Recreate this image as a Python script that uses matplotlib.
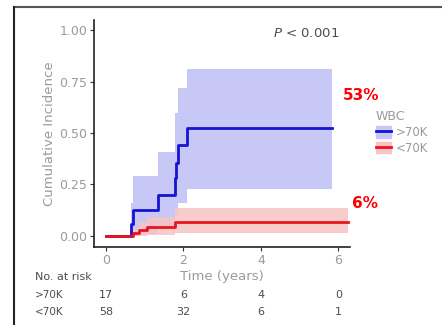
import matplotlib
matplotlib.use("Agg")
import matplotlib.pyplot as plt
from matplotlib.lines import Line2D
from matplotlib.patches import Patch

# step curves (time in years, cumulative incidence)
blue_t = [0, 0.65, 0.70, 1.33, 1.77, 1.80, 1.87, 2.08, 5.83]
blue_y = [0, 0.06, 0.125, 0.20, 0.28, 0.355, 0.44, 0.525, 0.525]
red_t = [0, 0.70, 0.85, 1.05, 1.77, 6.25]
red_y = [0, 0.012, 0.027, 0.042, 0.066, 0.066]

# confidence bands
blue_ci_t = [0.65, 0.70, 1.33, 1.77, 1.87, 2.08, 5.83]
blue_lo = [0.0, 0.01, 0.04, 0.10, 0.16, 0.23, 0.23]
blue_hi = [0.16, 0.29, 0.41, 0.60, 0.72, 0.81, 0.81]
red_ci_t = [0.70, 0.85, 1.05, 1.77, 6.25]
red_lo = [0.0, 0.0, 0.005, 0.014, 0.014]
red_hi = [0.04, 0.07, 0.09, 0.135, 0.135]

groups = [">70K", "<70K"]
risk_times = [0, 2, 4, 6]
risk_hi = [17, 6, 4, 0]
risk_lo = [58, 32, 6, 1]

blue = "#1414d2"
red = "#e8141e"
band_blue = "#c8c8f7"
band_red = "#f8c4c4"
grey = "#4d4d4d"
light = "#9a9a9a"

fig = plt.figure(figsize=(4.42, 3.25), dpi=100)
ax = fig.add_axes([94 / 442, 1 - 247 / 325, 256 / 442, 227 / 325])

ax.fill_between(blue_ci_t, blue_lo, blue_hi, step="post", color=band_blue, lw=0)
ax.fill_between(red_ci_t, red_lo, red_hi, step="post", color=band_red, lw=0, alpha=0.85)
ax.step(blue_t, blue_y, where="post", color=blue, lw=2)
ax.step(red_t, red_y, where="post", color=red, lw=2)

ax.set_xlim(-0.31, 6.3)
ax.set_ylim(-0.054, 1.05)
ax.set_xticks(risk_times)
ax.set_yticks([0, 0.25, 0.5, 0.75, 1.0])
ax.set_yticklabels(["0.00", "0.25", "0.50", "0.75", "1.00"])
ax.tick_params(colors="#333333", labelcolor=light, labelsize=9, length=3,
               width=0.8, pad=2)
for s in ["top", "right"]:
    ax.spines[s].set_visible(False)
for s in ["left", "bottom"]:
    ax.spines[s].set_linewidth(1.2)
    ax.spines[s].set_color("#222222")

ax.set_ylabel("Cumulative Incidence", fontsize=9.5, color=light, labelpad=2)

ax.text(0.83, 0.94, r"$P$ < 0.001", transform=ax.transAxes, fontsize=9.5,
        color=grey, ha="center", va="center")

fig.text(343 / 442, 1 - 95 / 325, "53%", color="red", fontsize=11,
         fontweight="bold", va="center")
fig.text(352 / 442, 1 - 203 / 325, "6%", color="red", fontsize=11,
         fontweight="bold", va="center")

handles = [
    (Patch(color=band_blue), Line2D([], [], color=blue, lw=2)),
    (Patch(color=band_red), Line2D([], [], color=red, lw=2)),
]
leg = fig.legend(handles, groups, title="WBC", loc="upper left",
                 bbox_to_anchor=(370 / 442, 1 - 104 / 325), frameon=False,
                 fontsize=8.5, title_fontsize=9, handlelength=1.3,
                 handleheight=1.1, handletextpad=0.4, labelspacing=0.25,
                 borderpad=0, alignment="left")
for t in leg.get_texts():
    t.set_color(light)
leg.get_title().set_color(light)

# risk table
xt = ax.get_xaxis_transform()
ax.text(3, -0.132, "Time (years)", transform=xt, ha="center", va="center",
        fontsize=9.5, color=light)
fig.text(35 / 442, 1 - 277 / 325, "No. at risk", fontsize=8, color=grey,
         va="center")
for row, (name, vals) in enumerate(zip(groups, [risk_hi, risk_lo])):
    yrow = -0.211 - row * 0.075
    fig.text(35 / 442, 1 - (295 + row * 17) / 325, name, fontsize=7.5,
             color=grey, va="center")
    for t, v in zip(risk_times, vals):
        ax.text(t, yrow, str(v), transform=xt, ha="center", va="center",
                fontsize=8, color=grey)

# screenshot frame
fig.add_artist(Line2D([14 / 442, 1], [1 - 7 / 325] * 2, color="#555555", lw=1.5))
fig.add_artist(Line2D([14 / 442] * 2, [0, 1 - 7 / 325], color="#222222", lw=1.5))

fig.savefig("out.png", dpi=100)
